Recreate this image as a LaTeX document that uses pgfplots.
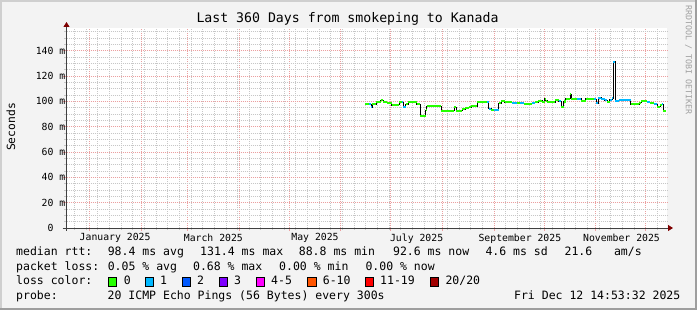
\documentclass[border=0pt]{standalone}
\usepackage{fontspec}
\setmainfont{DejaVu Sans Mono}
\usepackage{pgfplots}
\pgfplotsset{compat=1.18}
\usepackage{pgfplotstable}
\usetikzlibrary{arrows.meta}

\definecolor{backc}{HTML}{F3F3F3}
\definecolor{shadea}{HTML}{CFCFCF}
\definecolor{shadeb}{HTML}{9E9E9E}
\definecolor{gridc}{HTML}{C7C7C7}
\definecolor{mgridc}{HTML}{EBA0A0}
\definecolor{axisc}{HTML}{404040}
\definecolor{arrowc}{HTML}{7F0000}
\definecolor{sigc}{HTML}{A0A0A0}
\definecolor{lossA}{HTML}{26FF00}
\definecolor{lossB}{HTML}{00B8FF}
\definecolor{lossC}{HTML}{0059FF}
\definecolor{lossD}{HTML}{7E00FF}
\definecolor{lossE}{HTML}{FF00FF}
\definecolor{lossF}{HTML}{FF5500}
\definecolor{lossG}{HTML}{FF0000}
\definecolor{lossH}{HTML}{A10000}

% median rtt steps: start day (2025 day-of-year, Jan 1 = 0), length (days), median (ms), loss level
\pgfplotstableread{
x dx y loss
165.5 2.6 98.1 0
168.1 1.0 97.6 1
169.1 0.8 95.5 1
169.9 2.2 97.9 0
172.1 2.8 99.2 0
174.9 1.6 101.0 0
176.5 2.0 99.7 0
178.5 3.0 98.9 0
181.5 2.6 96.8 0
184.1 2.0 97.3 0
186.1 1.6 99.5 0
187.7 0.8 99.5 1
188.5 1.4 95.5 1
189.9 1.6 97.9 0
191.5 5.0 99.2 0
196.5 2.0 97.9 0
198.5 3.4 88.4 0
201.9 0.6 92.9 0
202.5 8.6 96.1 0
211.1 7.8 92.6 0
218.9 1.2 95.5 0
220.1 3.6 92.6 0
223.7 2.0 93.9 0
225.7 2.1 94.7 0
227.8 1.5 95.3 0
229.3 3.4 96.1 0
232.7 6.0 99.5 0
238.7 1.1 99.5 1
239.8 1.5 94.2 1
241.3 1.5 93.4 0
242.8 3.0 93.4 1
245.8 1.5 98.4 0
247.3 2.1 100.3 0
249.4 4.4 99.5 0
253.8 3.0 98.4 1
256.8 1.9 98.4 0
258.7 2.1 98.9 1
260.8 5.0 98.1 0
265.8 1.6 98.4 1
267.4 2.0 99.2 0
269.4 2.4 100.5 0
271.8 1.6 99.7 0
273.4 0.6 102.1 0
274.0 0.8 100.5 0
274.8 4.9 99.5 0
279.7 2.1 100.8 0
281.8 1.5 100.0 1
283.3 1.5 95.5 0
284.8 1.2 99.8 0
286.0 2.6 102.1 0
288.6 0.8 105.5 0
289.4 3.2 102.1 0
292.6 2.8 102.1 1
295.4 2.6 100.5 0
298.0 5.0 102.1 0
303.0 1.3 101.6 1
304.3 1.2 98.4 1
305.5 1.9 102.9 1
307.4 2.0 102.1 1
309.4 1.6 101.1 1
311.0 1.4 99.7 0
312.4 1.6 101.3 1
314.0 0.6 102.4 1
314.6 1.0 131.3 1
315.6 2.4 100.5 1
318.0 7.0 101.3 1
325.0 5.0 97.9 0
330.0 1.4 98.9 0
331.4 3.6 100.0 0
335.0 1.6 99.5 1
336.6 2.4 98.4 0
339.0 2.0 97.6 1
341.0 1.6 95.8 0
342.6 1.0 97.1 0
343.6 1.0 97.6 1
344.6 1.4 92.4 0
}\steps

\newcommand\lgf{\fontsize{11.5}{13}\selectfont}
\newcommand\tkf{\fontsize{9.8}{11}\selectfont}

\begin{document}
\begin{tikzpicture}
\begin{scope}[x=1pt,y=1pt]
\fill[backc] (0,0) rectangle (697,310);
\fill[shadea] (0,0) rectangle (2,310);
\fill[shadea] (0,308) rectangle (697,310);
\fill[shadeb] (695,0) rectangle (697,310);
\fill[shadeb] (0,0) rectangle (697,2);
\end{scope}

\begin{axis}[
  at={(66.5pt,82pt)}, anchor=south west,
  scale only axis, width=600.5pt, height=200pt,
  xmin=-13.7, xmax=346.8, ymin=0, ymax=157.9,
  axis lines=left,
  axis background/.style={fill=white},
  axis line style={axisc, line width=0.8pt},
  x axis line style={-{Triangle[length=5pt,width=6pt,color=arrowc]}, shorten >=-6pt, shorten <=-4pt},
  y axis line style={-{Triangle[length=5pt,width=6pt,color=arrowc]}, shorten >=-6pt, shorten <=-3pt},
  xtick={0,31,59,90,120,151,181,212,243,273,304,334},
  xticklabels={January 2025,,March 2025,,May 2025,,July 2025,,September 2025,,November 2025,},
  minor xtick={-9,-2,...,341},
  ytick={0,20,40,60,80,100,120,140},
  yticklabels={0\hphantom{\ m},20 m,40 m,60 m,80 m,100 m,120 m,140 m},
  minor ytick={5,10,15,25,30,35,45,50,55,65,70,75,85,90,95,105,110,115,125,130,135,145,150,155},
  xmajorgrids, ymajorgrids, xminorgrids, yminorgrids,
  major grid style={draw=mgridc, dash pattern=on 1pt off 1pt, line width=0.8pt},
  minor grid style={draw=gridc, dash pattern=on 1pt off 1pt, line width=0.8pt},
  tick align=outside,
  major tick length=3pt, minor tick length=2pt,
  major tick style={draw=mgridc, line width=0.8pt},
  minor tick style={draw=gridc, line width=0.8pt},
  yticklabel style={font=\tkf, inner sep=0pt, anchor=east},
  xticklabel style={font=\tkf, inner sep=0pt, anchor=north, xshift=25.8pt},
  yticklabel shift=-2pt,
  xticklabel shift=2.5pt,
]
\addplot[const plot, color=black, line width=0.8pt, mark=none] table[x=x, y=y] {\steps};
\addplot[quiver={u=\thisrow{dx}, v=0}, -, draw=lossA, line width=2.2pt, mark=none,
  restrict expr to domain={\thisrow{loss}}{-0.5:0.5}] table[x=x, y=y] {\steps};
\addplot[quiver={u=\thisrow{dx}, v=0}, -, draw=lossB, line width=2.2pt, mark=none,
  restrict expr to domain={\thisrow{loss}}{0.5:1.5}] table[x=x, y=y] {\steps};
\end{axis}

\begin{scope}[x=1pt,y=1pt]
% title, axis label, signature
\node[font=\fontsize{13.2}{15}\selectfont] at (347.5,291) {Last 360 Days from smokeping to Kanada};
\node[font=\fontsize{11.3}{13}\selectfont, rotate=90] at (11,183) {Seconds};
\node[font=\fontsize{8.3}{10}\selectfont, rotate=-90, text=sigc] at (688.5,250) {RRDTOOL / TOBI OETIKER};

% legend lines
\begin{scope}[every node/.style={font=\lgf, inner sep=0pt, anchor=mid west}]
\node at (16,57) {median rtt:};
\node at (107.6,57) {98.4 ms avg};
\node at (200,57) {131.4 ms max};
\node at (298.7,57) {88.8 ms min};
\node at (392.9,57) {92.6 ms now};
\node at (485.3,57) {4.6 ms sd};
\node at (564.4,57) {21.6};
\node at (613.8,57) {am/s};

\node at (16,42.5) {packet loss:};
\node at (107.6,42.5) {0.05 \% avg};
\node at (192.9,42.5) {0.68 \% max};
\node at (279,42.5) {0.00 \% min};
\node at (365.3,42.5) {0.00 \% now};

\node at (16,28) {loss color:};
\node at (123.6,28) {0};
\node at (160,28) {1};
\node at (197,28) {2};
\node at (234,28) {3};
\node at (271,28) {4-5};
\node at (322.7,28) {6-10};
\node at (380,28) {11-19};
\node at (445.3,28) {20/20};

\node at (16,13.5) {probe:};
\node at (107.5,13.5) {20 ICMP Echo Pings (56 Bytes) every 300s};
\node[anchor=mid east] at (680.5,13.5) {Fri Dec 12 14:53:32 2025};
\end{scope}

\begin{scope}[line width=0.8pt, draw=black]
\filldraw[fill=lossA] (108,23.8) rectangle ++(8.4,8.4);
\filldraw[fill=lossB] (145,23.8) rectangle ++(8.4,8.4);
\filldraw[fill=lossC] (182,23.8) rectangle ++(8.4,8.4);
\filldraw[fill=lossD] (219,23.8) rectangle ++(8.4,8.4);
\filldraw[fill=lossE] (256,23.8) rectangle ++(8.4,8.4);
\filldraw[fill=lossF] (307.6,23.8) rectangle ++(8.4,8.4);
\filldraw[fill=lossG] (365.3,23.8) rectangle ++(8.4,8.4);
\filldraw[fill=lossH] (430,23.8) rectangle ++(8.4,8.4);
\end{scope}
\end{scope}

\pgfresetboundingbox
\path[use as bounding box] (0pt,0pt) rectangle (697pt,310pt);
\end{tikzpicture}
\end{document}
